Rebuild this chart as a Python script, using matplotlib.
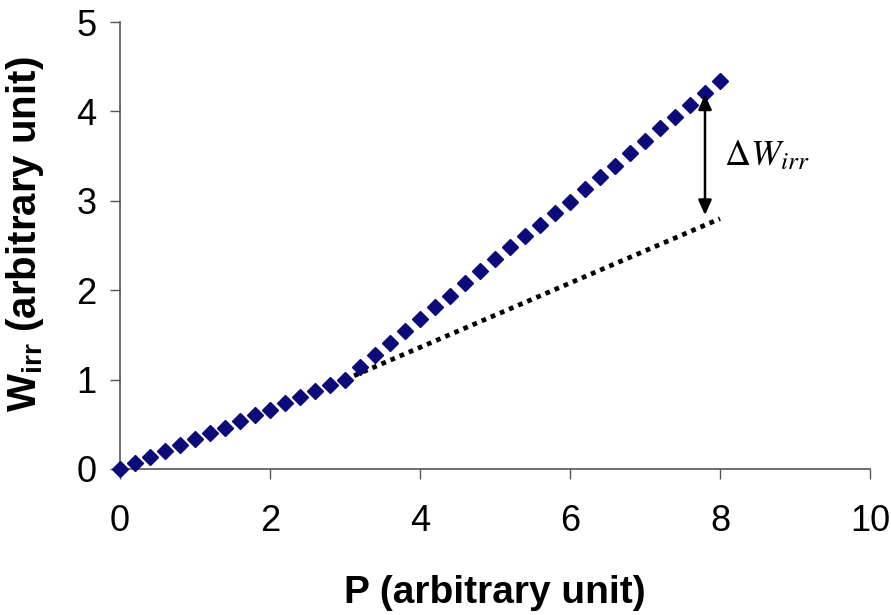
import matplotlib
matplotlib.use("Agg")
import matplotlib.pyplot as plt

# ── DATA ──────────────────────────────────────────────────────────────────
p_vals = [0.0, 0.2, 0.4, 0.6, 0.8, 1.0, 1.2, 1.4, 1.6, 1.8, 2.0,
          2.2, 2.4, 2.6, 2.8, 3.0, 3.2, 3.4, 3.6, 3.8, 4.0,
          4.2, 4.4, 4.6, 4.8, 5.0, 5.2, 5.4, 5.6, 5.8, 6.0,
          6.2, 6.4, 6.6, 6.8, 7.0, 7.2, 7.4, 7.6, 7.8, 8.0]
w_irr = [0.00, 0.07, 0.13, 0.20, 0.27, 0.33, 0.40, 0.46, 0.54, 0.60, 0.66,
         0.74, 0.80, 0.87, 0.94, 1.00, 1.14, 1.28, 1.41, 1.54, 1.68,
         1.81, 1.94, 2.08, 2.22, 2.35, 2.48, 2.61, 2.73, 2.86, 2.99,
         3.13, 3.27, 3.39, 3.53, 3.67, 3.81, 3.94, 4.07, 4.21, 4.34]

# tangente lineare (prolungamento del tratto iniziale)
tan_p = [3.0, 8.0]
tan_w = [1.0, 2.8]

# freccia delta W
arrow_p = 7.8
arrow_lo = 2.84
arrow_hi = 4.19

x_ticks = [0, 2, 4, 6, 8, 10]
y_ticks = [0, 1, 2, 3, 4, 5]

# ── PLOT ──────────────────────────────────────────────────────────────────
plt.rcParams["font.family"] = ["Liberation Sans", "DejaVu Sans"]
plt.rcParams["mathtext.fontset"] = "custom"
plt.rcParams["mathtext.rm"] = "Liberation Sans"
plt.rcParams["mathtext.bf"] = "Liberation Sans:bold"
plt.rcParams["mathtext.it"] = "Liberation Sans:italic"

fig = plt.figure(figsize=(8.91, 6.15), dpi=100)
ax = fig.add_axes([120 / 891, 1 - 469 / 615, 750 / 891, 447 / 615])

ax.plot(tan_p, tan_w, color="black", linewidth=3.4, dashes=(1, 1.1),
        dash_capstyle="butt", zorder=2)
ax.plot(p_vals, w_irr, linestyle="none", marker="D", markersize=8.3,
        color="#0b0b7a", zorder=3, clip_on=False)

ax.annotate("", xy=(arrow_p, arrow_hi), xytext=(arrow_p, arrow_lo),
            arrowprops=dict(arrowstyle="<|-|>,head_length=0.9,head_width=0.4",
                            color="black", lw=1.8, shrinkA=0, shrinkB=0))
ax.text(8.06, 3.5, r"$\Delta W_{irr}$", fontsize=26, math_fontfamily="stix",
        ha="left", va="center")

ax.set_xlim(0, 10)
ax.set_ylim(0, 5)
ax.set_xticks(x_ticks)
ax.set_yticks(y_ticks)
ax.tick_params(direction="out", length=7, width=1, labelsize=26,
               color="#555555")
ax.tick_params(axis="x", pad=18)
ax.tick_params(axis="y", pad=10)
for s in ["top", "right"]:
    ax.spines[s].set_visible(False)
for s in ["left", "bottom"]:
    ax.spines[s].set_color("#555555")
    ax.spines[s].set_linewidth(1.2)

ax.set_xlabel("P (arbitrary unit)", fontsize=28, fontweight="bold", labelpad=26)
ax.set_ylabel(r"$\mathbf{W_{irr}}$ (arbitrary unit)", fontsize=29,
              fontweight="bold")
ax.yaxis.set_label_coords(-0.098, 0.525)

fig.savefig("out.png", dpi=100)
